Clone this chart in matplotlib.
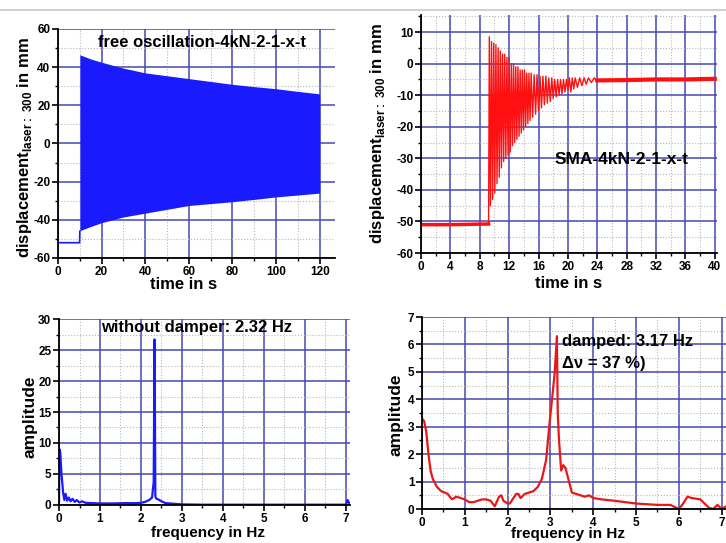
import numpy as np
import matplotlib.pyplot as plt
from matplotlib.ticker import MultipleLocator
from matplotlib.lines import Line2D

plt.rcParams['font.family'] = ['Liberation Sans', 'DejaVu Sans']
plt.rcParams['font.weight'] = 'bold'
plt.rcParams['mathtext.fontset'] = 'custom'
plt.rcParams['mathtext.rm'] = 'Liberation Sans'
plt.rcParams['axes.unicode_minus'] = False

# free oscillation (envelope)
free_pre_t = [0, 5, 9.9, 10.0]
free_pre_y = [-52, -52, -52, -46]
free_t = [10, 15, 20, 25, 30, 40, 50, 60, 70, 80, 90, 100, 110, 120]
free_upper = [46.5, 44.3, 42.6, 41, 39.5, 37, 35.5, 34, 32.5, 31, 29.8, 28.7, 27.3, 26]
free_lower = [-45.7, -43.5, -41.5, -40, -38.5, -36.5, -34.5, -32.5, -31.5, -30.5, -29.3, -28, -27, -26]

# SMA damped oscillation
sma_pre_t = [0, 4, 9.2]
sma_pre_y = [-51, -51, -50.8]
sma_t = [9.20, 9.30, 9.45, 9.60, 9.75, 9.90, 10.05, 10.20, 10.35, 10.50, 10.65, 10.80,
         10.95, 11.10, 11.25, 11.40, 11.55, 11.70, 11.85, 12.00, 12.15, 12.30, 12.45,
         12.60, 12.75, 12.90, 13.05, 13.20, 13.35, 13.50, 13.65, 13.80, 13.95, 14.10,
         14.25, 14.40, 14.55, 14.70, 14.85, 15.00, 15.20, 15.40, 15.60, 15.80, 16.00,
         16.20, 16.40, 16.60, 16.80, 17.00, 17.20, 17.40, 17.60, 17.80, 18.00, 18.20,
         18.40, 18.60, 18.80, 19.00, 19.20, 19.40, 19.60, 19.80, 20.00, 20.20, 20.40,
         20.60, 20.80, 21.00, 21.30, 21.60, 21.90, 22.20, 22.50, 22.80, 23.20, 23.60, 24.0]
sma_y = [-51, 8.5, -45, 7, -43, 6.5, -41, 6, -38, 5, -36, 4,
         -33, 3, -31, 3, -30, 2, -29, 2, -28, 0, -26,
         0, -25, -1, -24, -1, -23, -2, -22, -2, -21, -2,
         -20, -3, -19, -3, -18, -3, -17, -3.5, -16, -3.5, -15,
         -4, -14, -4, -13, -4, -12.5, -4.5, -12, -4.5, -11, -5,
         -10.5, -5, -10, -5, -9.5, -5, -9, -5, -8.5, -4.5, -9,
         -4.5, -8, -4.5, -7.5, -4.5, -7, -4.5, -6.5, -4.5, -6, -4.5, -5.8]
sma_tail_t = [24, 28, 32, 36, 40]
sma_tail_y = [-5.3, -5.2, -5.0, -5.0, -4.8]

# spectrum without damper
free_f = [0.0, 0.01, 0.03, 0.06, 0.1, 0.13, 0.16, 0.2, 0.24, 0.28, 0.33, 0.38, 0.43,
          0.5, 0.56, 0.65, 0.8, 1.0, 1.3, 1.6, 1.9, 2.0, 2.1, 2.2, 2.27, 2.31,
          2.33, 2.34, 2.35, 2.36, 2.38, 2.42, 2.5, 2.6, 2.8, 3.0, 3.5, 5.0, 6.5,
          7.0, 7.04, 7.08, 7.1]
free_amp = [0.5, 9.0, 8.5, 5.0, 2.0, 0.8, 1.8, 0.7, 1.2, 0.6, 1.0, 0.5, 0.8,
            0.4, 0.6, 0.35, 0.3, 0.25, 0.25, 0.3, 0.3, 0.35, 0.5, 0.8, 1.2, 3.7,
            26.7, 16.0, 1.5, 1.2, 1.0, 0.9, 0.6, 0.3, 0.2, 0.1, 0.05, 0.05, 0.05,
            0.05, 0.8, 0.3, 0.2]

# spectrum with SMA damper
damp_f = [0.0, 0.05, 0.1, 0.15, 0.2, 0.25, 0.35, 0.45, 0.6, 0.7, 0.8, 0.9, 1.0, 1.1,
          1.2, 1.3, 1.4, 1.5, 1.6, 1.7, 1.8, 1.85, 1.9, 2.0, 2.05, 2.2, 2.25, 2.3,
          2.4, 2.5, 2.6, 2.7, 2.8, 2.9, 2.97, 3.05, 3.1, 3.15, 3.17, 3.2, 3.25, 3.3,
          3.35, 3.4, 3.5, 3.6, 3.7, 3.8, 3.9, 4.0, 4.2, 4.5, 5.0, 5.5, 5.8, 6.0,
          6.1, 6.2, 6.3, 6.5, 6.6, 6.7, 6.8, 6.9, 7.0, 7.1]
damp_amp = [3.3, 3.2, 2.8, 2.0, 1.4, 1.1, 0.8, 0.65, 0.55, 0.35, 0.45, 0.4, 0.35, 0.25,
            0.25, 0.3, 0.35, 0.35, 0.3, 0.1, 0.45, 0.5, 0.3, 0.2, 0.2, 0.55, 0.55, 0.4,
            0.55, 0.6, 0.65, 0.8, 1.1, 1.8, 3.0, 4.2, 5.0, 6.3, 3.5, 2.5, 1.4, 1.6,
            1.5, 1.2, 0.6, 0.55, 0.5, 0.45, 0.5, 0.4, 0.35, 0.3, 0.2, 0.15, 0.15, 0.0,
            0.2, 0.45, 0.4, 0.35, 0.2, 0.05, 0.0, 0.15, 0.0, 0.1]

fig = plt.figure(figsize=(7.26, 5.43), dpi=100)
fig.add_artist(Line2D([0, 1], [0.982, 0.982], color='#c8c8c8', lw=1.2))

ax1 = fig.add_axes([0.0799, 0.5249, 0.3815, 0.4217])
ax2 = fig.add_axes([0.5799, 0.5340, 0.4077, 0.4383])
ax3 = fig.add_axes([0.0813, 0.0700, 0.4008, 0.3425])
ax4 = fig.add_axes([0.5813, 0.0626, 0.4187, 0.3536])


def style(ax, xmaj, xmin, ymaj, ymin):
    ax.xaxis.set_major_locator(MultipleLocator(xmaj))
    ax.xaxis.set_minor_locator(MultipleLocator(xmin))
    ax.yaxis.set_major_locator(MultipleLocator(ymaj))
    ax.yaxis.set_minor_locator(MultipleLocator(ymin))
    ax.grid(which='major', color='#4848b4', lw=1.1)
    ax.grid(which='minor', color='#b8b8b8', lw=0.8, ls=':')
    ax.set_axisbelow(True)
    for s in ['top', 'right']:
        ax.spines[s].set_visible(False)
    for s in ['left', 'bottom']:
        ax.spines[s].set_linewidth(1.3)
    ax.tick_params(which='major', direction='out', length=4, width=1.2, labelsize=8.5, pad=1.5)
    ax.tick_params(which='minor', direction='out', length=2.5, width=1)
    for lab in ax.get_xticklabels() + ax.get_yticklabels():
        lab.set_fontweight('bold')


ylab = r'displacement$_{\mathregular{laser{:}\ 300}}$ in mm'

# top left
ax1.plot(free_pre_t, free_pre_y, color='#1a1aff', lw=1.2)
ax1.fill_between(free_t, free_lower, free_upper, color='#1a1aff', lw=0)
ax1.set_xlim(0, 127)
ax1.set_ylim(-60, 60)
style(ax1, 20, 10, 20, 10)
ax1.text(0.52, 0.939, 'free oscillation-4kN-2-1-x-t', transform=ax1.transAxes,
         ha='center', va='center', fontsize=12, fontweight='bold')
ax1.set_xlabel('time in s', fontsize=12, fontweight='bold')
ax1.xaxis.set_label_coords(0.455, -0.082)
ax1.set_ylabel(ylab, fontsize=12, fontweight='bold')
ax1.yaxis.set_label_coords(-0.088, 0.48)

# top right
ax2.plot(sma_pre_t, sma_pre_y, color='#ff1010', lw=2.5)
ax2.plot(sma_t, sma_y, color='#ff1010', lw=1.0)
ax2.plot(sma_tail_t, sma_tail_y, color='#ff1010', lw=3)
ax2.set_xlim(0, 40.3)
ax2.set_ylim(-60, 15.4)
style(ax2, 4, 2, 10, 5)
ax2.text(0.679, 0.395, 'SMA-4kN-2-1-x-t', transform=ax2.transAxes,
         ha='center', va='center', fontsize=12.5, fontweight='bold')
ax2.set_xlabel('time in s', fontsize=12, fontweight='bold')
ax2.xaxis.set_label_coords(0.497, -0.097)
ax2.set_ylabel(ylab, fontsize=12, fontweight='bold')
ax2.yaxis.set_label_coords(-0.115, 0.50)

# bottom left
ax3.plot(free_f, free_amp, color='#1a1aff', lw=1.6)
ax3.set_xlim(0, 7.1)
ax3.set_ylim(0, 30)
style(ax3, 1, 0.5, 5, 2.5)
ax3.text(0.474, 0.952, 'without damper: 2.32 Hz', transform=ax3.transAxes,
         ha='center', va='center', fontsize=12, fontweight='bold')
ax3.set_xlabel('frequency in Hz', fontsize=11, fontweight='bold')
ax3.xaxis.set_label_coords(0.512, -0.113)
ax3.set_ylabel('amplitude', fontsize=12.5, fontweight='bold')
ax3.yaxis.set_label_coords(-0.075, 0.473)

# bottom right
ax4.plot(damp_f, damp_amp, color='#e81818', lw=1.6)
ax4.set_xlim(0, 7.1)
ax4.set_ylim(0, 7)
style(ax4, 1, 0.5, 1, 0.5)
ax4.text(0.46, 0.875, 'damped: 3.17 Hz', transform=ax4.transAxes,
         ha='left', va='center', fontsize=12, fontweight='bold')
ax4.text(0.46, 0.76, '\u0394\u03bd = 37 %)', transform=ax4.transAxes,
         ha='left', va='center', fontsize=12, fontweight='bold')
ax4.set_xlabel('frequency in Hz', fontsize=11, fontweight='bold')
ax4.xaxis.set_label_coords(0.48, -0.096)
ax4.set_ylabel('amplitude', fontsize=12.5, fontweight='bold')
ax4.yaxis.set_label_coords(-0.0625, 0.49)

fig.savefig('out.png', dpi=100)
